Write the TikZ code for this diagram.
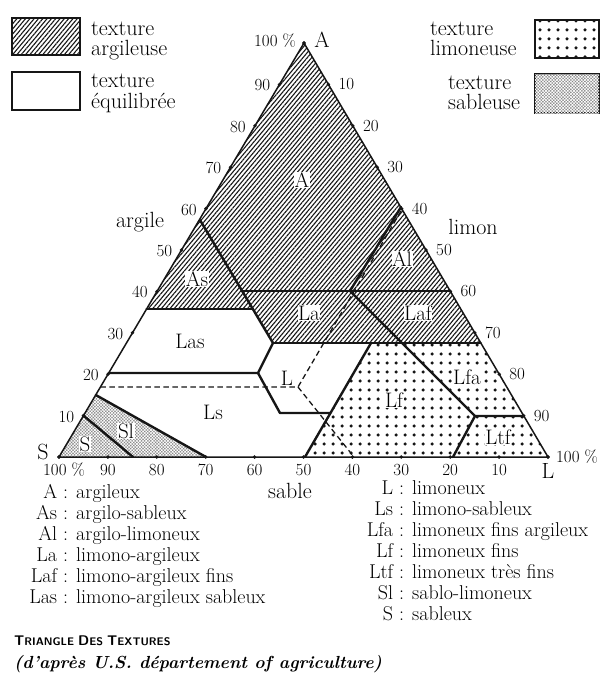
\documentclass[tikz,border=0pt]{standalone}
\usepackage{fontspec}
\usetikzlibrary{calc,patterns.meta}
\definecolor{soilInk}{RGB}{22,22,22}
\definecolor{sandGray}{RGB}{135,135,135}
\newcommand\ptsize[1]{\fontsize{#1}{#1}\selectfont}

\begin{document}
\begin{tikzpicture}[x=1pt,y=-1pt,
    soilLine/.style={draw=soilInk,line width=2.4pt,line join=round,line cap=round},
    soilDash/.style={draw=soilInk,line width=1.3pt,dash pattern=on 5.5pt off 3.5pt},
    argileFill/.style={pattern={Lines[angle=50,distance=3.3pt,line width=1.1pt]},pattern color=soilInk},
    limonFill/.style={pattern={Dots[radius=1.75pt,distance=9pt]},pattern color=soilInk},
    sableFill/.style={fill=sandGray,postaction={pattern={Hatch[angle=45,distance=2.2pt,line width=0.6pt]},pattern color=white}},
    keyBox/.style={draw=soilInk,line width=1.7pt},
    keyText/.style={font=\ptsize{22},inner sep=0pt,anchor=base west},
    numLabel/.style={font=\ptsize{17},inner sep=0pt},
    axisLabel/.style={font=\ptsize{22},inner sep=0pt},
    zoneLabel/.style={font=\ptsize{21},fill=white,inner xsep=0.6pt,inner ysep=0.4pt},
    legText/.style={font=\ptsize{20},inner sep=0pt,anchor=base west}]
  \useasboundingbox (0,0) rectangle (601,696);

  % corners of the triangle
  \coordinate (S) at (59,457);
  \coordinate (L) at (548,457);
  \coordinate (A) at (304,43);
  % class limits
  \coordinate (asTop) at (200,220);
  \coordinate (asLeft) at (146.6,309);
  \coordinate (asBot) at (253,309);
  \coordinate (c40L) at (242,291);
  \coordinate (c40R) at (450.2,291);
  \coordinate (alTop) at (401,207);
  \coordinate (alBot) at (350,291);
  \coordinate (laBot) at (273,343);
  \coordinate (c27R) at (480.8,343);
  \coordinate (lfTop) at (371,343);
  \coordinate (lfBase) at (305,457);
  \coordinate (ltfTop) at (475,416);
  \coordinate (c10R) at (523.8,416);
  \coordinate (ltfBase) at (453,457);
  \coordinate (c20L) at (108.7,373);
  \coordinate (lJ) at (258,373);
  \coordinate (lLow) at (280,413);
  \coordinate (lfMid) at (330.5,413);
  \coordinate (slTop) at (95.8,395);
  \coordinate (slBase) at (206,457);
  \coordinate (sTop) at (83.5,415.6);
  \coordinate (sBase) at (133,457);
  \coordinate (dL) at (100.4,387);
  \coordinate (dJ) at (298,387);
  \coordinate (dTop) at (401,211);
  \coordinate (dBase) at (354,457);

  % textures
  \path[argileFill] (A) -- (asLeft) -- (asBot) -- (laBot) -- (c27R) -- cycle;
  \path[limonFill] (lfTop) -- (c27R) -- (L) -- (lfBase) -- cycle;
  \path[sableFill] (S) -- (slTop) -- (slBase) -- cycle;

  % dashed limits
  \draw[soilDash] (dL) -- (dJ) -- (dTop);
  \draw[soilDash] (dJ) -- (dBase);

  % solid limits
  \draw[soilLine] (asTop) -- (laBot);
  \draw[soilLine] (asLeft) -- (asBot);
  \draw[soilLine] (c40L) -- (c40R);
  \draw[soilLine] (alTop) -- (alBot) -- (ltfTop) -- (c10R);
  \draw[soilLine] (ltfTop) -- (ltfBase);
  \draw[soilLine] (laBot) -- (c27R);
  \draw[soilLine] (c20L) -- (lJ) -- (laBot);
  \draw[soilLine] (lJ) -- (lLow) -- (lfMid);
  \draw[soilLine] (lfBase) -- (lfTop);
  \draw[soilLine] (slTop) -- (slBase);
  \draw[soilLine] (sTop) -- (sBase);
  \draw[draw=soilInk,line width=1.5pt,line join=round] (S) -- (L) -- (A) -- cycle;

  % graduations
  \foreach \k in {0,...,10} {
    \fill[soilInk] ($(S)!\k/10!(A)$) circle (1.9pt);
    \fill[soilInk] ($(A)!\k/10!(L)$) circle (1.9pt);
    \fill[soilInk] ($(S)!\k/10!(L)$) circle (1.9pt);
  }
  \foreach \k in {1,...,9} {
    \pgfmathtruncatemacro\pct{10*\k}
    \pgfmathtruncatemacro\rev{100-10*\k}
    \node[numLabel,anchor=east] (argTick\k) at ($(S)!\k/10!(A)+(-9,1)$) {\pct};
    \node[numLabel,anchor=west] (limTick\k) at ($(A)!\k/10!(L)+(10,0)$) {\pct};
    \node[numLabel] (sabTick\k) at ($(S)!\k/10!(L)+(0,13)$) {\rev};
  }
  \node[numLabel] (sabFull) at (64,470) {100 \%};
  \node[numLabel] (limFull) at (577,457) {100 \%};
  \node[numLabel] (argFull) at (275,41) {100 \%};
  \node[axisLabel] (cornerA) at (322,40) {A};
  \node[axisLabel] (cornerS) at (43,452) {S};
  \node[axisLabel] (cornerL) at (548,471) {L};
  \node[axisLabel] (nameArg) at (140,222) {argile};
  \node[axisLabel] (nameLim) at (473,227) {limon};
  \node[axisLabel] (nameSab) at (290,491) {sable};

  % classes
  \foreach \nm/\px/\py in {A/302/180,As/197/279,Al/402/259,La/309/313,Laf/418/313,
                          Las/190/341,L/287/378,Ls/213/412,Lf/394/400,Lfa/467/377,
                          Ltf/498/437,S/85/444,Sl/126/431}
    \node[zoneLabel] (zone\nm) at (\px,\py) {\nm};

  % key boxes
  \draw[keyBox,argileFill] (12,18) rectangle (80,55);
  \draw[keyBox] (12,72) rectangle (80,110);
  \draw[keyBox,limonFill] (535,20) rectangle (599,58);
  \draw[keyBox,sableFill] (535,74) rectangle (599,113);
  \node[keyText] (keyArg) at (91,35) {texture};
  \node[keyText] (keyArgB) at (91,55) {argileuse};
  \node[keyText] (keyEqu) at (91,87) {texture};
  \node[keyText] (keyEquB) at (91,108) {équilibrée};
  \node[keyText] (keyLim) at (430,35) {texture};
  \node[keyText] (keyLimB) at (430,55) {limoneuse};
  \node[keyText] (keySab) at (448,89) {texture};
  \node[keyText] (keySabB) at (448,109) {sableuse};

  % abbreviations
  \foreach \ab/\nm [count=\i] in {A/argileux,As/argilo-sableux,Al/argilo-limoneux,
      La/limono-argileux,Laf/limono-argileux fins,Las/limono-argileux sableux}
    \node[legText] (abbrL\i) at (63,{498+21*(\i-1)}) {\llap{\ab\ }: \nm};
  \foreach \ab/\nm [count=\i] in {L/limoneux,Ls/limono-sableux,Lfa/limoneux fins argileux,
      Lf/limoneux fins,Ltf/limoneux très fins,Sl/sablo-limoneux,S/sableux}
    \node[legText] (abbrR\i) at (399,{494+21*(\i-1)}) {\llap{\ab\ }: \nm};

  % caption
  \node[anchor=base west,inner sep=0pt,font=\sffamily\bfseries] (capTitle) at (14,645)
    {\ptsize{14}T\ptsize{11}RIANGLE \ptsize{14}D\ptsize{11}ES \ptsize{14}T\ptsize{11}EXTURES};
  \node[anchor=base west,inner sep=0pt,font=\bfseries\itshape\ptsize{17.5}] (capSource) at (14,668)
    {(d’après U.S. département of agriculture)};
\end{tikzpicture}
\end{document}
